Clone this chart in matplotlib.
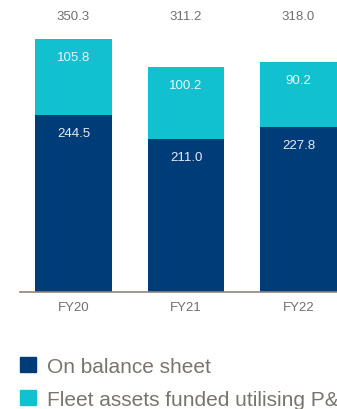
import matplotlib
matplotlib.use('Agg')
import matplotlib.pyplot as plt
from matplotlib.patches import Patch

years = ['FY20', 'FY21', 'FY22']
on_balance = [244.5, 211.0, 227.8]
fleet_funded = [105.8, 100.2, 90.2]
totals = [350.3, 311.2, 318.0]

NAVY = '#003c78'
CYAN = '#12c1d0'
GREY = '#707070'

plt.rcParams['font.family'] = ['Liberation Sans', 'DejaVu Sans']

fig = plt.figure(figsize=(3.37, 4.10), dpi=100)
ax = fig.add_axes([20 / 337, 0.286, 317 / 337, 0.714])

x = list(range(len(years)))
width = 0.684
ax.bar(x, on_balance, width=width, color=NAVY)
ax.bar(x, fleet_funded, width=width, bottom=on_balance, color=CYAN)

for i in x:
    ax.text(i, on_balance[i] - 25, f'{on_balance[i]:.1f}', ha='center', va='center',
            color='#e6ecf3', fontsize=9.5)
    ax.text(i, totals[i] - 25, f'{fleet_funded[i]:.1f}', ha='center', va='center',
            color='#e6f8fa', fontsize=9.5)
    ax.text(i, 381, f'{totals[i]:.1f}', ha='center', va='center', color=GREY, fontsize=9.5)

ax.set_xlim(-0.4756, 2.342)
ax.set_ylim(0, 405)
ax.set_xticks(x)
ax.set_xticklabels(years, color=GREY, fontsize=9.5)
ax.tick_params(axis='x', length=0, pad=7)
ax.set_yticks([])
for side in ['top', 'right', 'left']:
    ax.spines[side].set_visible(False)
ax.spines['bottom'].set_color('#8c8480')
ax.spines['bottom'].set_linewidth(1.2)

# legend runs off the right edge, as in the source image
handles = [Patch(color=NAVY, label='On balance sheet'),
           Patch(color=CYAN, label='Fleet assets funded utilising P&A')]
fig.legend(handles=handles, loc='upper left', bbox_to_anchor=(0.059, 0.128),
           frameon=False, fontsize=15, handlelength=0.75, handleheight=0.75,
           handletextpad=0.55, labelspacing=0.7, labelcolor='#7a7470',
           borderaxespad=0, borderpad=0)

fig.savefig('out.png', dpi=100)
